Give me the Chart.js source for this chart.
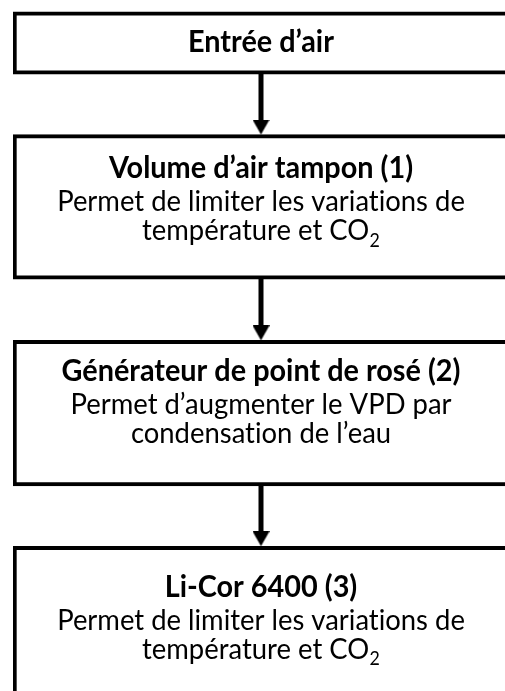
<!DOCTYPE html>
<html lang="fr">
<head>
  <meta charset="UTF-8">
  <title>Montage expérimental</title>
  <style>
    html, body {
      margin: 0;
      padding: 0;
      background: #fff;
      overflow: hidden;
      width: 505px;
      height: 691px;
    }
    .wrap {
      position: absolute;
      left: 0;
      top: 0;
    }
  </style>
  <script src="https://cdn.jsdelivr.net/npm/chart.js"></script>
</head>
<body>
  <div class="wrap">
    <canvas id="flow" width="513" height="760"></canvas>
  </div>
  <script>
    // Steps of the air circuit, top to bottom
    const steps = ['Entrée d’air', 'Volume d’air tampon (1)', 'Générateur de point de rosé (2)', 'Li-Cor 6400 (3)'];
    const notes = [
      [],
      ['Permet de limiter les variations de', 'température et CO₂'],
      ['Permet d’augmenter le VPD par', 'condensation de l’eau'],
      ['Permet de limiter les variations de', 'température et CO₂']
    ];
    // vertical extent of each box (y axis runs down, in px of the figure)
    const boxTop = [8, 132, 340, 548];
    const boxBottom = [71, 278, 487, 760];
    // baseline of each box title
    const titleY = [49, 176, 381, 599];

    // arrow head: tip sits at the centre of the image
    const head = document.createElement('canvas');
    head.width = 17;
    head.height = 30;
    const hc = head.getContext('2d');
    hc.fillStyle = '#000';
    hc.beginPath();
    hc.moveTo(0, 0);
    hc.lineTo(17, 0);
    hc.lineTo(8.5, 15);
    hc.closePath();
    hc.fill();

    const boxSets = steps.map((s, i) => ({
      type: 'bar',
      label: s,
      data: [[boxTop[i], boxBottom[i]]],
      backgroundColor: '#fff',
      borderColor: '#000',
      borderWidth: 4,
      borderSkipped: false,
      barPercentage: 1,
      categoryPercentage: 1,
      grouped: false
    }));

    const arrowSets = steps.slice(1).map((s, i) => ({
      type: 'line',
      label: 'flèche ' + (i + 1),
      data: [
        { x: 'air', y: boxBottom[i] - 2 },
        { x: 'air', y: boxTop[i + 1] - 6 },
        { x: 'air', y: boxTop[i + 1] }
      ],
      borderColor: '#000',
      borderWidth: 5,
      borderCapStyle: 'butt',
      segment: {
        borderColor: ctx => ctx.p1DataIndex === 2 ? 'rgba(0,0,0,0)' : '#000'
      },
      pointRadius: ctx => ctx.dataIndex === 2 ? 1 : 0,
      pointStyle: ctx => ctx.dataIndex === 2 ? head : false,
      pointBorderWidth: 0
    }));

    // Calibri-like look: Lato drawn a little narrower
    const squeeze = 0.95;

    function noLig(t) {
      return t.replace(/ti/g, 't\u200Ci');
    }

    function fitSize(ctx, weight, text, target) {
      ctx.font = weight + ' 20px Lato';
      return 20 * target / (ctx.measureText(noLig(text)).width * squeeze);
    }

    // draws a line of text, with ₂ as a real lowered subscript
    function drawLine(ctx, text, cx, y, size, weight) {
      const parts = noLig(text).split('₂');
      const main = weight + ' ' + size + 'px Lato';
      const sub = weight + ' ' + (size * 0.65) + 'px Lato';
      let w = 0;
      parts.forEach((p, k) => {
        ctx.font = main;
        w += ctx.measureText(p).width;
        if (k < parts.length - 1) { ctx.font = sub; w += ctx.measureText('2').width + 0.5; }
      });
      ctx.save();
      ctx.translate(cx, y);
      ctx.scale(squeeze, 1);
      let x = -w / 2;
      ctx.textAlign = 'left';
      parts.forEach((p, k) => {
        ctx.font = main;
        ctx.fillText(p, x, 0);
        x += ctx.measureText(p).width;
        if (k < parts.length - 1) {
          ctx.font = sub;
          ctx.fillText('2', x + 0.5, size * 0.22);
          x += ctx.measureText('2').width + 0.5;
        }
      });
      ctx.restore();
    }

    const boxText = {
      id: 'boxText',
      afterDatasetsDraw(chart) {
        const { ctx, scales } = chart;
        const cx = scales.x.getPixelForValue(0);
        const tSize = fitSize(ctx, 'bold', steps[2], 399);
        const nSize = fitSize(ctx, 'normal', notes[1][0], 408);
        ctx.save();
        ctx.fillStyle = '#000';
        ctx.textBaseline = 'alphabetic';
        steps.forEach((s, i) => {
          const y0 = scales.y.getPixelForValue(titleY[i]);
          drawLine(ctx, s, cx, y0, tSize, 'bold');
          notes[i].forEach((n, k) => {
            drawLine(ctx, n, cx, y0 + 33 + k * 29, nSize, 'normal');
          });
        });
        ctx.restore();
      }
    };

    new Chart(document.getElementById('flow').getContext('2d'), {
      data: {
        labels: ['air'],
        datasets: [...arrowSets, ...boxSets]
      },
      options: {
        responsive: false,
        animation: false,
        layout: { padding: { left: 13, right: 0, top: 0, bottom: 0 } },
        plugins: {
          legend: { display: false },
          tooltip: { enabled: false }
        },
        scales: {
          x: { type: 'category', display: false, offset: true },
          y: { type: 'linear', display: false, reverse: true, min: 0, max: 760 }
        }
      },
      plugins: [boxText]
    });
  </script>
</body>
</html>
